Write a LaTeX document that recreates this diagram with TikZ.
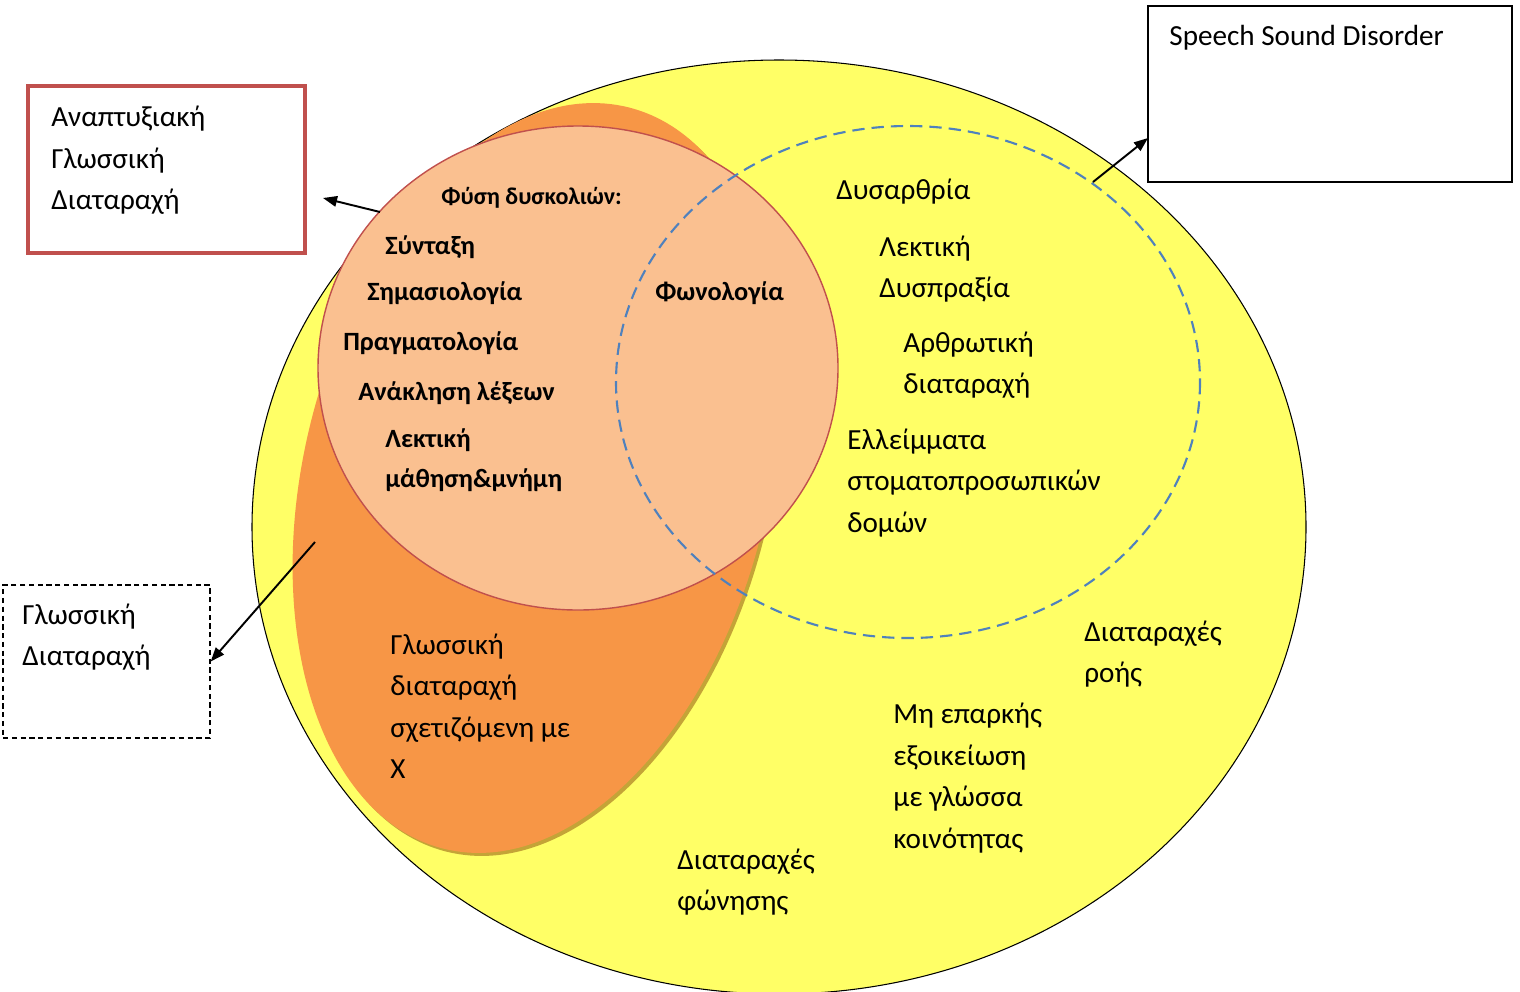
\documentclass[tikz,border=0pt]{standalone}
\usepackage{fontspec}
\setmainfont{Carlito}
\usetikzlibrary{arrows.meta}
\definecolor{yel}{HTML}{FFFF66}
\definecolor{orng}{HTML}{F79646}
\definecolor{olivec}{HTML}{C4A437}
\definecolor{peach}{HTML}{FAC090}
\definecolor{redc}{HTML}{C0504D}
\definecolor{blu}{HTML}{4F81BD}
\tikzset{
  txt/.style={inner sep=0pt, align=left, anchor=west, yshift=-0.04cm, font=\fontsize{16.6}{23.6}\selectfont},
  btxt/.style={txt, font=\fontsize{15}{22}\selectfont\bfseries},
  arr/.style={-{Triangle[length=8pt,width=6pt]}, line width=1.1pt}
}
\begin{document}
\begin{tikzpicture}[x=0.02cm,y=-0.02cm]
  \useasboundingbox (0,0) rectangle (1520,991);
  % the big circle
  \draw[fill=yel, line width=0.6pt] (779,527) ellipse [x radius=527, y radius=467];
  % language disorder
  \fill[olivec, rotate around={-14:(539,481)}] (539,481) ellipse [x radius=232, y radius=382];
  \fill[orng, rotate around={-14:(536,478)}] (536,478) ellipse [x radius=232, y radius=382];
  \draw[fill=peach, draw=redc, line width=0.8pt] (578,368) ellipse [x radius=260, y radius=242];
  % speech sound disorder
  \draw[blu, line width=1.2pt, dash pattern=on 7pt off 4pt] (908,382) ellipse [x radius=292, y radius=256];

  % boxes
  \node (dld) [draw=redc, line width=2.8pt, minimum width=5.54cm, minimum height=3.34cm, inner sep=0pt] at (166.5,169.5) {};
  \node (ssd) [draw, line width=0.8pt, minimum width=7.28cm, minimum height=3.52cm, inner sep=0pt] at (1330,94) {};
  \node (ld) [draw, line width=0.8pt, dash pattern=on 3pt off 2pt, minimum width=4.14cm, minimum height=3.06cm, inner sep=0pt] at (106.5,661.5) {};
  \node[txt] (dldt) at (51,158.5) {Αναπτυξιακή\\Γλωσσική\\Διαταραχή};
  \node[txt] (ssdt) at (1169,36) {Speech Sound Disorder};
  \node[txt] (ldt) at (22,635) {Γλωσσική\\Διαταραχή};

  % inside the language circle
  \node[btxt, font=\fontsize{13.7}{20}\selectfont\bfseries] (n1) at (441,196) {Φύση δυσκολιών:};
  \node[btxt] (n2) at (385,245) {Σύνταξη};
  \node[btxt] (n3) at (367,291) {Σημασιολογία};
  \node[btxt] (n4) at (343,341) {Πραγματολογία};
  \node[btxt] (n5) at (358,391) {Ανάκληση λέξεων};
  \node[btxt, font=\fontsize{15}{22.5}\selectfont\bfseries] (n6) at (385,458) {Λεκτική\\μάθηση\&μνήμη};
  \node[btxt] (n7) at (655,291) {Φωνολογία};

  % inside the dashed circle
  \node[txt] (s1) at (836,190) {Δυσαρθρία};
  \node[txt] (s2) at (879,267) {Λεκτική\\Δυσπραξία};
  \node[txt] (s3) at (903,363) {Αρθρωτική\\διαταραχή};
  \node[txt] (s4) at (847,481) {Ελλείμματα\\στοματοπροσωπικών\\δομών};
  % outside
  \node[txt] (o1) at (390,704) {Γλωσσική\\διαταραχή\\σχετιζόμενη με\\Χ};
  \node[txt] (o2) at (1084,652) {Διαταραχές\\ροής};
  \node[txt] (o3) at (893,776) {Μη επαρκής\\εξοικείωση\\με γλώσσα\\κοινότητας};
  \node[txt] (o4) at (677,880) {Διαταραχές\\φώνησης};

  % arrows
  \coordinate (a1) at (380,212);
  \coordinate (a2) at (315,542);
  \coordinate (a3) at (1093,182);
  \coordinate (b1) at (323,198);
  \coordinate (b3) at (1148,138);
  \draw[arr] (a1) -- (b1);
  \draw[arr] (a2) -- (ld.east);
  \draw[arr] (a3) -- (b3);
\end{tikzpicture}
\end{document}
